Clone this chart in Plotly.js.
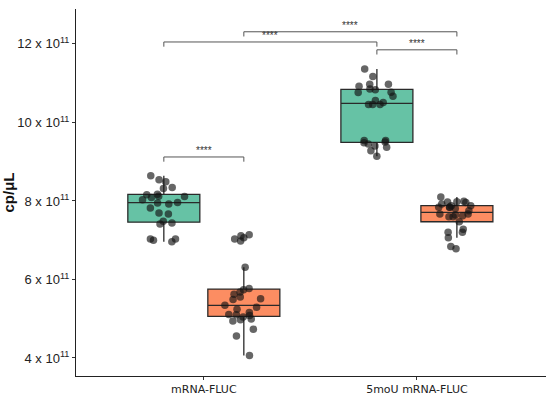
<!DOCTYPE html>
<html>
<head>
<meta charset="utf-8">
<script src="https://cdn.plot.ly/plotly-3.0.1.min.js"></script>
<style>html,body{margin:0;padding:0;background:#fff;}#chart{width:550px;height:402px;}</style>
</head>
<body>
<div id="chart"></div>
<script>
// values in units of 10^11 cp/µL
const categories = ['mRNA-FLUC', '5moU mRNA-FLUC'];
const seriesNames = ['group A', 'group B'];
const greenMRNA = [8.64, 8.54, 8.49, 8.32, 8.34, 8.16, 8.17, 8.09, 8.11, 8.12, 8.03, 7.95, 7.92, 7.96, 7.82, 7.67, 7.69, 7.48, 7.44, 7.41, 7.03, 6.96, 7.00, 7.03];
const orangeMRNA = [7.14, 7.06, 7.03, 7.11, 6.98, 6.31, 5.77, 5.74, 5.68, 5.62, 5.55, 5.49, 5.51, 5.34, 5.29, 5.24, 5.16, 5.11, 5.08, 5.04, 5.10, 4.99, 4.97, 4.94, 4.73, 4.56, 4.06];
const green5moU = [11.36, 11.17, 10.97, 10.92, 10.97, 10.85, 10.76, 10.83, 10.77, 10.67, 10.56, 10.46, 10.46, 10.51, 10.46, 9.54, 9.48, 9.54, 9.50, 9.45, 9.40, 9.37, 9.28, 9.14];
const orange5moU = [8.10, 7.98, 7.99, 7.92, 7.88, 7.97, 7.96, 7.88, 7.84, 7.81, 7.75, 7.84, 7.84, 7.67, 7.60, 7.62, 7.67, 7.60, 7.64, 7.47, 7.28, 7.20, 7.20, 7.06, 6.84, 6.78];
const tickVals = [4, 6, 8, 10, 12];
const tickText = ['4 x 10<sup>11</sup>', '6 x 10<sup>11</sup>', '8 x 10<sup>11</sup>', '10 x 10<sup>11</sup>', '12 x 10<sup>11</sup>'];
const sigLabel = '****';
// comparisons: [category index, trace index] pairs and bracket level
const comparisons = [
  {a: [0, 0], b: [0, 1], level: 9.12},
  {a: [0, 0], b: [1, 0], level: 12.05},
  {a: [0, 1], b: [1, 1], level: 12.31},
  {a: [1, 0], b: [1, 1], level: 11.85}
];

const boxgap = 0.249, boxgroupgap = 0.1;
const off = (1 - boxgap) / 4;

function mk(vals0, vals1, fill, name) {
  return {
    type: 'box', name: name,
    x: vals0.map(() => categories[0]).concat(vals1.map(() => categories[1])),
    y: vals0.concat(vals1),
    boxpoints: 'all', jitter: 0.65, pointpos: 0, quartilemethod: 'inclusive',
    fillcolor: fill, line: {color: '#2a2a2a', width: 1.3}, whiskerwidth: 0,
    marker: {color: 'rgba(20,20,20,0.65)', size: 7.5, line: {width: 0}},
    hoverinfo: 'y', showlegend: false
  };
}
const traces = [mk(greenMRNA, green5moU, '#66C2A5', seriesNames[0]), mk(orangeMRNA, orange5moU, '#FC8D62', seriesNames[1])];

const shapes = [], annotations = [];
const tick = 0.12;
const lineStyle = {color: '#555555', width: 1};
comparisons.forEach(c => {
  const xa = c.a[0] + (c.a[1] === 0 ? -off : off);
  const xb = c.b[0] + (c.b[1] === 0 ? -off : off);
  shapes.push({type: 'line', xref: 'x', yref: 'y', x0: xa, x1: xb, y0: c.level, y1: c.level, line: lineStyle});
  shapes.push({type: 'line', xref: 'x', yref: 'y', x0: xa, x1: xa, y0: c.level, y1: c.level - tick, line: lineStyle});
  shapes.push({type: 'line', xref: 'x', yref: 'y', x0: xb, x1: xb, y0: c.level, y1: c.level - tick, line: lineStyle});
  annotations.push({x: (xa + xb) / 2, y: c.level, xref: 'x', yref: 'y', text: sigLabel, showarrow: false,
    yanchor: 'bottom', yshift: -1, font: {family: 'Liberation Sans, Arial', size: 10, color: '#333333'}});
});

const layout = {
  width: 550, height: 402,
  margin: {l: 76, r: 4, t: 9, b: 26},
  paper_bgcolor: '#fff', plot_bgcolor: '#fff',
  boxmode: 'group', boxgap: boxgap, boxgroupgap: boxgroupgap,
  xaxis: {type: 'category', categoryarray: categories, range: [-0.6, 1.606],
    showline: true, linecolor: '#222', linewidth: 1, ticks: 'outside', ticklen: 3, tickcolor: '#333',
    showgrid: false, zeroline: false,
    tickfont: {family: 'DejaVu Sans', size: 11, color: '#222'}},
  yaxis: {range: [3.54, 12.89], tickvals: tickVals, ticktext: tickText,
    showline: true, linecolor: '#222', linewidth: 1, ticks: 'outside', ticklen: 3, tickcolor: '#333',
    showgrid: false, zeroline: false,
    tickfont: {family: 'Liberation Sans, Arial', size: 13, color: '#222'},
    title: {text: '<b>cp/μL</b>', font: {family: 'Liberation Sans, Arial', size: 15, color: '#111'}, standoff: 1}},
  shapes: shapes, annotations: annotations
};
Plotly.newPlot('chart', traces, layout, {staticPlot: true, displayModeBar: false});
</script>
</body>
</html>
